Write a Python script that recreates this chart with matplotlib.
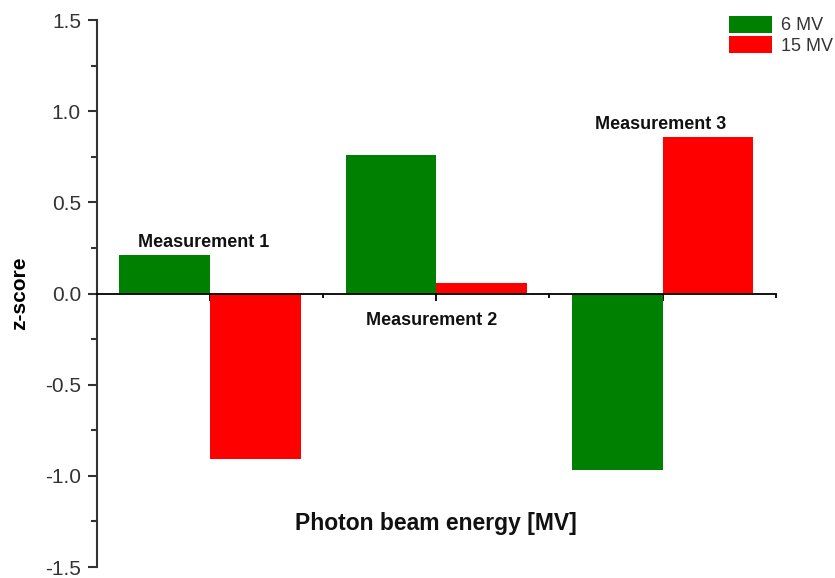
import matplotlib
matplotlib.use('Agg')
import matplotlib.pyplot as plt
from matplotlib.ticker import MultipleLocator
from matplotlib.patches import Patch
import numpy as np

# data
groups = [1, 2, 3]
measurement_labels = ["Measurement 1", "Measurement 2", "Measurement 3"]
z_6mv = [0.21, 0.76, -0.97]
z_15mv = [-0.91, 0.06, 0.86]
series_names = ["6 MV", "15 MV"]

plt.rcParams['font.family'] = ['Liberation Sans', 'DejaVu Sans']

fig = plt.figure(figsize=(8.35, 5.78), dpi=100)
ax = fig.add_axes([0.116, 0.019, 0.813, 0.946])

x = np.array(groups, dtype=float)
w = 0.4
ax.bar(x - w / 2, z_6mv, width=w, color='#008000', zorder=2)
ax.bar(x + w / 2, z_15mv, width=w, color='#ff0000', zorder=2)

ax.set_xlim(0.5, 3.5)
ax.set_ylim(-1.5, 1.5)

# axis styling: left spine, bottom spine at zero
for s in ['top', 'right']:
    ax.spines[s].set_visible(False)
ax.spines['bottom'].set_position(('data', 0))
ax.spines['left'].set_color('#333333')
ax.spines['left'].set_linewidth(1.5)
ax.spines['bottom'].set_color('black')
ax.spines['bottom'].set_linewidth(1.3)
ax.spines['bottom'].set_zorder(3)

ax.yaxis.set_minor_locator(MultipleLocator(0.25))
ax.set_yticks([-1.5, -1.0, -0.5, 0.0, 0.5, 1.0, 1.5])
ax.set_yticklabels(['-1.5', '-1.0', '-0.5', '0.0', '0.5', '1.0', '1.5'])
ax.tick_params(axis='y', which='major', length=6.5, width=1.5, color='#333333',
               labelsize=15, labelcolor='#333333', pad=5)
ax.tick_params(axis='y', which='minor', length=4, width=1.5, color='#333333')

ax.set_xticks(groups)
ax.set_xticks([1.5, 2.5, 3.5], minor=True)
ax.set_xticklabels([])
ax.tick_params(axis='x', which='major', length=5, width=1.3, direction='out')
ax.tick_params(axis='x', which='minor', length=3, width=1.3, direction='out')

ax.set_ylabel('z-score', fontsize=15, fontweight='bold', labelpad=11)

# measurement annotations
label_pos = [(0.97, 0.28), (1.98, -0.15), (2.99, 0.93)]
for (lx, ly), txt in zip(label_pos, measurement_labels):
    ax.text(lx, ly, txt, ha='center', va='center', fontsize=13,
            fontweight='bold', color='#111111', zorder=4)

ax.text(2.0, -1.26, 'Photon beam energy [MV]', ha='center', va='center',
        fontsize=16.5, fontweight='bold', color='#111111')

handles = [Patch(facecolor='#008000'), Patch(facecolor='#ff0000')]
fig.legend(handles, series_names, loc='upper right', bbox_to_anchor=(1.013, 0.995),
           frameon=False, fontsize=13, handlelength=2.4, handleheight=1.1,
           labelspacing=0.1, handletextpad=0.5, labelcolor='#333333',
           borderpad=0.2)

fig.savefig('out.png', dpi=100)
